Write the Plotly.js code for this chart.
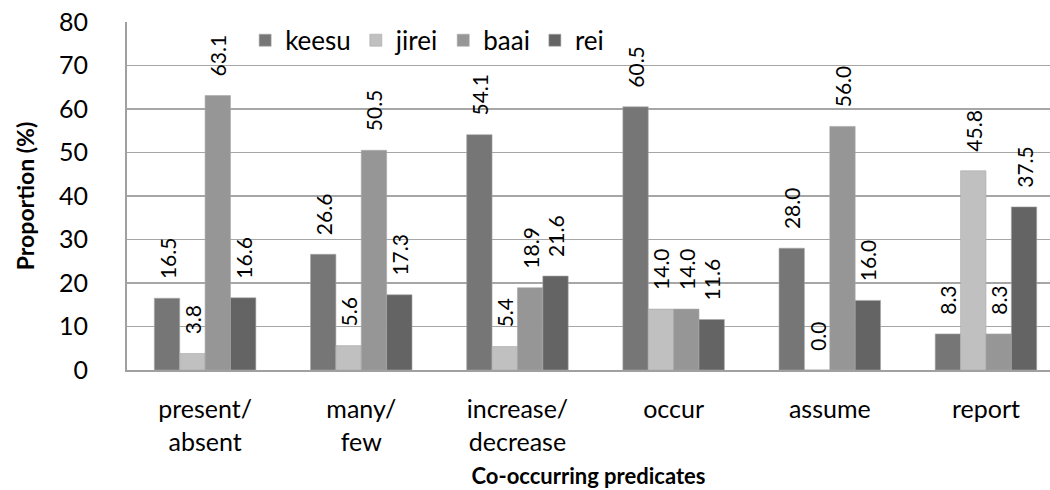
<!DOCTYPE html>
<html>
<head>
<meta charset="utf-8">
<script src="https://cdn.plot.ly/plotly-3.0.1.min.js"></script>
<style>html,body{margin:0;padding:0;background:#fff}#chart{width:1050px;height:490px}</style>
</head>
<body>
<div id="chart"></div>
<script>
const categories = ["present/<br>absent", "many/<br>few", "increase/<br>decrease", "occur", "assume", "report"];
const seriesNames = ["keesu", "jirei", "baai", "rei"];
const keesu = [16.5, 26.6, 54.1, 60.5, 28.0, 8.3];
const jirei = [3.8, 5.6, 5.4, 14.0, 0.0, 45.8];
const baai = [63.1, 50.5, 18.9, 14.0, 56.0, 8.3];
const rei = [16.6, 17.3, 21.6, 11.6, 16.0, 37.5];
const yTicks = [0, 10, 20, 30, 40, 50, 60, 70, 80];

const colors = ["#767676", "#c0c0c0", "#969696", "#646464"];
const allSeries = [keesu, jirei, baai, rei];
const FONT = "Lato, 'Open Sans', sans-serif";
const pad = "\u00a0\u00a0\u00a0";

const traces = allSeries.map((vals, i) => ({
  type: "bar",
  name: seriesNames[i],
  x: categories,
  y: vals,
  marker: {color: colors[i], line: {color: "#a8a8a8", width: 0.6}},
  text: vals.map(v => pad + v.toFixed(1)),
  textposition: "outside",
  textangle: -90,
  constraintext: "none",
  cliponaxis: false,
  textfont: {family: FONT, size: 21, color: "#000"},
  hoverinfo: "skip"
}));

const layout = {
  width: 1050, height: 490,
  margin: {l: 127, r: 0, t: 22, b: 120},
  paper_bgcolor: "#fff", plot_bgcolor: "#fff",
  barmode: "group",
  bargap: 0.35,
  bargroupgap: 0,
  font: {family: FONT, color: "#000"},
  showlegend: true,
  legend: {
    orientation: "h", x: 0.128, xanchor: "left", y: 1.015, yanchor: "top",
    font: {family: FONT, size: 26, color: "#000"},
    bgcolor: "rgba(0,0,0,0)", itemwidth: 30, tracegroupgap: 0
  },
  xaxis: {
    type: "category",
    range: [-0.5, 5.41],
    showgrid: false, showline: true, linecolor: "#a0a0a0", linewidth: 2,
    ticks: "", tickfont: {family: FONT, size: 25, color: "#000"},
    ticklabelstandoff: 16,
    title: {text: "<b>Co-occurring predicates</b>", font: {family: FONT, size: 22, color: "#000"}, standoff: 14}
  },
  yaxis: {
    range: [0, 80], tickvals: yTicks, ticktext: yTicks.map(String),
    showgrid: true, gridcolor: "#a6a6a6", gridwidth: 1.5,
    showline: true, linecolor: "#a0a0a0", linewidth: 2,
    zeroline: false, ticks: "",
    tickfont: {family: FONT, size: 25, color: "#000"},
    ticklabelstandoff: 32,
    title: {text: "<b>Proportion (%)</b>", font: {family: FONT, size: 23, color: "#000"}, standoff: 18}
  }
};

Plotly.newPlot("chart", traces, layout, {staticPlot: true, displayModeBar: false});
</script>
</body>
</html>
